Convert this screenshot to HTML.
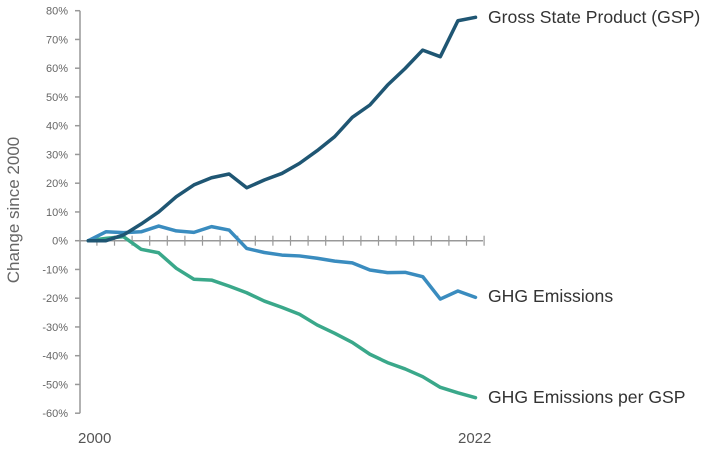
<!DOCTYPE html>
<html><head><meta charset="utf-8"><style>
body{margin:0;background:#fff;font-family:"Liberation Sans",sans-serif}
svg{display:block}
</style></head><body>
<svg id="c" width="719" height="468"></svg>
<script>
const years=[2000,2001,2002,2003,2004,2005,2006,2007,2008,2009,2010,2011,2012,2013,2014,2015,2016,2017,2018,2019,2020,2021,2022];
const gsp=[0,0,2,5.8,10,15.3,19.4,21.9,23.2,18.4,21.1,23.4,26.9,31.3,36.2,42.9,47.2,54.1,59.9,66.3,64,76.5,77.7];
const ghg=[0,3.1,2.8,3.1,5.1,3.4,2.9,4.9,3.7,-2.7,-4.1,-5,-5.3,-6.1,-7.1,-7.7,-10.2,-11.1,-11,-12.5,-20.3,-17.5,-19.7];
const ghgPerGsp=[0,0.8,1.4,-3,-4.2,-9.6,-13.4,-13.7,-15.8,-18.1,-21,-23.2,-25.6,-29.3,-32.2,-35.4,-39.5,-42.4,-44.6,-47.3,-51,-52.9,-54.6];
const yTicks=[80,70,60,50,40,30,20,10,0,-10,-20,-30,-40,-50,-60];
const NS='http://www.w3.org/2000/svg';
const svg=document.getElementById('c');
const x=i=>88.3+i*17.6;
const y=v=>240.7-v*2.875;
function mk(t,a,p){const e=document.createElementNS(NS,t);for(const k in a)e.setAttribute(k,a[k]);(p||svg).appendChild(e);return e;}
const ax=mk('line',{x1:80,y1:y(80),x2:80,y2:y(-60),stroke:'#999','stroke-width':1.5});


yTicks.forEach(v=>{
  const t=mk('line',{x1:75,x2:80,y1:y(v),y2:y(v),stroke:'#999','stroke-width':1.5});
  
  
  const l=mk('text',{x:68,y:y(v)+4,'text-anchor':'end','font-size':11,fill:'#666'});
  l.textContent=v+'%';
  
  
});
const z=mk('line',{x1:80,x2:483,y1:y(0),y2:y(0),stroke:'#999','stroke-width':1.5});


years.forEach((yr,i)=>{
  const t=mk('line',{x1:x(i)+8.6,x2:x(i)+8.6,y1:y(0)-5,y2:y(0)+5,stroke:'#999','stroke-width':1.2});
  
  
});
const series=[[gsp,'#1f5673','gsp-line'],[ghg,'#3a8cbf','ghg-emissions-line'],[ghgPerGsp,'#3aa88a','ghg-per-gsp-line']];
series.slice().reverse().forEach(([d,c,n])=>{
  const p=mk('polyline',{points:d.map((v,i)=>x(i)+','+y(v)).join(' '),fill:'none',stroke:c,'stroke-width':3.5,'stroke-linejoin':'round','stroke-linecap':'round'});
  
  
});
</script>
<div style="position:absolute;left:0;top:0;width:719px;height:468px;pointer-events:none;color:#444">
<div style="position:absolute;left:14px;top:210px;transform:translate(-50%,-50%) rotate(-90deg);font-size:17px;white-space:nowrap;color:#666">Change since 2000</div>
<div style="position:absolute;left:78px;top:430px;font-size:15px;color:#555">2000</div>
<div style="position:absolute;left:458px;top:430px;font-size:15px;color:#555">2022</div>
<div style="position:absolute;left:488px;top:7px;font-size:17.6px;color:#333">Gross State Product (GSP)</div>
<div style="position:absolute;left:488px;top:286px;font-size:17.6px;color:#333">GHG Emissions</div>
<div style="position:absolute;left:488px;top:387px;font-size:17.6px;color:#333">GHG Emissions per GSP</div>
</div>
</body></html>
